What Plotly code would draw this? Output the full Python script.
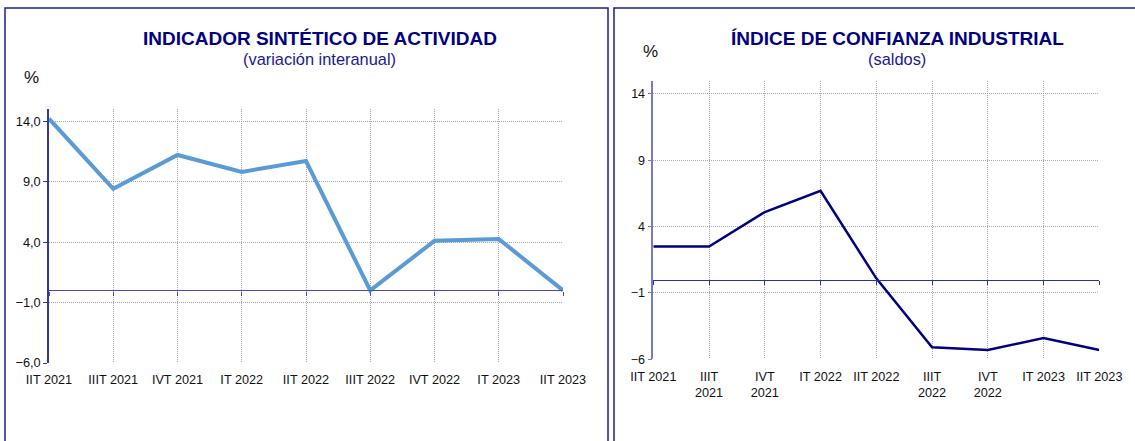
import plotly.graph_objects as go

W, H = 1135, 441

# ---- data ----
cats = ["IIT 2021", "IIIT 2021", "IVT 2021", "IT 2022", "IIT 2022",
        "IIIT 2022", "IVT 2022", "IT 2023", "IIT 2023"]
labels_left = cats
labels_right = ["IIT 2021", "IIIT<br>2021", "IVT<br>2021", "IT 2022", "IIT 2022",
                "IIIT<br>2022", "IVT<br>2022", "IT 2023", "IIT 2023"]
actividad = [14.2, 8.4, 11.2, 9.8, 10.7, 0.0, 4.1, 4.25, 0.0]
confianza = [2.5, 2.5, 5.1, 6.7, 0.1, -5.1, -5.3, -4.4, -5.3]

title_left = "INDICADOR SINTÉTICO DE ACTIVIDAD"
sub_left = "(variación interanual)"
title_right = "ÍNDICE DE CONFIANZA INDUSTRIAL"
sub_right = "(saldos)"

FONT = "Arial, Liberation Sans, sans-serif"
NAVY = "#000080"

def px_x(x):
    return x / W

def px_y(y):
    return 1 - y / H

yrange = [-6, 15]

# plot areas (pixels)
L = dict(x0=49, x1=563, ytop=109, ybot=363)
R = dict(x0=653.3, x1=1099.3, ytop=80.7, ybot=359.3)

def zero_pos(area):
    d0, d1 = px_y(area["ybot"]), px_y(area["ytop"])
    return d0 + (0 - yrange[0]) / (yrange[1] - yrange[0]) * (d1 - d0)

fig = go.Figure()

fig.add_trace(go.Scatter(x=cats, y=actividad, mode="lines",
                         line=dict(color="#5B9BD5", width=4),
                         xaxis="x", yaxis="y", showlegend=False, hoverinfo="skip"))
fig.add_trace(go.Scatter(x=cats, y=actividad, mode="lines", opacity=0,
                         xaxis="x3", yaxis="y", showlegend=False, hoverinfo="skip"))
fig.add_trace(go.Scatter(x=cats, y=confianza, mode="lines",
                         line=dict(color=NAVY, width=2.5),
                         xaxis="x2", yaxis="y2", showlegend=False, hoverinfo="skip"))
fig.add_trace(go.Scatter(x=cats, y=confianza, mode="lines", opacity=0,
                         xaxis="x4", yaxis="y2", showlegend=False, hoverinfo="skip"))

tickfont = dict(family=FONT, size=12.7, color="#111111")
grid = dict(showgrid=True, gridcolor="#a8a8a8", gridwidth=1, griddash="1px,1px")

def xaxis_main(area, anchor, ticktext):
    return dict(domain=[px_x(area["x0"]), px_x(area["x1"])], anchor=anchor,
                type="category", range=[0, len(cats) - 1], automargin=False,
                tickvals=cats, ticktext=ticktext,
                showline=False, zeroline=False, ticks="outside", ticklen=5,
                tickcolor="rgba(0,0,0,0)", tickfont=tickfont, **grid)

def xaxis_zero(area, over, linecolor):
    return dict(overlaying=over, anchor="free", position=zero_pos(area),
                domain=[px_x(area["x0"]), px_x(area["x1"])], automargin=False,
                type="category", range=[0, len(cats) - 1],
                tickvals=cats, showticklabels=False, showgrid=False, zeroline=False,
                showline=True, linecolor=linecolor, linewidth=1.2,
                ticks="outside", ticklen=4, tickcolor=linecolor, tickwidth=1.2)

def yaxis(area, anchor, fmt, linecolor, size):
    return dict(domain=[px_y(area["ybot"]), px_y(area["ytop"])], anchor=anchor,
                range=yrange, tick0=-6, dtick=5, tickformat=fmt, automargin=False,
                showline=True, linecolor=linecolor, linewidth=1.5,
                ticks="outside", ticklen=4, tickcolor=linecolor,
                zeroline=False, tickfont=dict(tickfont, size=size), **grid)

fig.update_layout(
    width=W, height=H, margin=dict(l=0, r=0, t=0, b=0, pad=0, autoexpand=False),
    paper_bgcolor="white", plot_bgcolor="white",
    separators=",.",
    font=dict(family=FONT),
    xaxis=xaxis_main(L, "y", labels_left),
    yaxis=yaxis(L, "x", ".1f", "#3535a8", 12.8),
    xaxis3=xaxis_zero(L, "x", "#4a4ab0"),
    xaxis2=xaxis_main(R, "y2", labels_right),
    yaxis2=yaxis(R, "x2", "d", "#7878c4", 12.5),
    xaxis4=xaxis_zero(R, "x2", "#3030a0"),
)

annos = [
    dict(text="<b>" + title_left + "</b>", x=px_x(320), y=px_y(39),
         font=dict(size=19, color=NAVY, family=FONT)),
    dict(text=sub_left, x=px_x(319), y=px_y(59),
         font=dict(size=16.4, color="#1a1a8a", family=FONT)),
    dict(text="%", x=px_x(31), y=px_y(77),
         font=dict(size=17, color="#111111", family=FONT)),
    dict(text="<b>" + title_right + "</b>", x=px_x(897), y=px_y(39),
         font=dict(size=19, color=NAVY, family=FONT)),
    dict(text=sub_right, x=px_x(896.5), y=px_y(59),
         font=dict(size=16.4, color="#1a1a8a", family=FONT)),
    dict(text="%", x=px_x(650), y=px_y(51),
         font=dict(size=17, color="#111111", family=FONT)),
]
for a in annos:
    fig.add_annotation(xref="paper", yref="paper", showarrow=False,
                       xanchor="center", yanchor="middle", **a)

# panel frames
fig.add_shape(type="rect", xref="paper", yref="paper",
              x0=px_x(5), x1=px_x(608), y0=-0.05, y1=px_y(8),
              line=dict(color="#1c1c8c", width=1.5), fillcolor="rgba(0,0,0,0)", layer="below")
fig.add_shape(type="rect", xref="paper", yref="paper",
              x0=px_x(614), x1=1.02, y0=-0.05, y1=px_y(8),
              line=dict(color="#1c1c8c", width=1.5), fillcolor="rgba(0,0,0,0)", layer="below")

fig.write_html("out.html", config={"displayModeBar": False},
               post_script="document.body.style.margin='0px';")
